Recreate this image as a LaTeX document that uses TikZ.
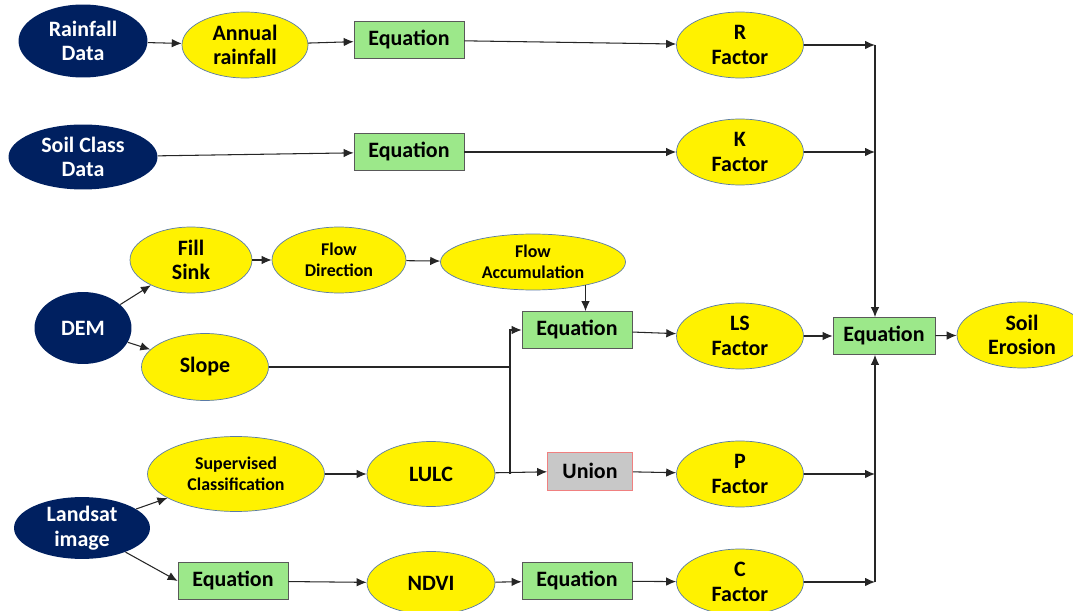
\documentclass[tikz,border=0pt]{standalone}
\usepackage{fontspec}
\setmainfont{Carlito}
\usetikzlibrary{arrows.meta,positioning,shapes.geometric,calc}
\definecolor{navy}{HTML}{002060}
\definecolor{ellline}{HTML}{5A7BA6}
\definecolor{eqgreen}{HTML}{9CE88A}
\definecolor{uniongray}{HTML}{C8C8C8}
\definecolor{unionline}{HTML}{F08080}

\begin{document}
\begin{tikzpicture}[
  x=0.02cm, y=-0.02cm,
  src/.style={ellipse,fill=navy,text=white,font=\bfseries\fontsize{12.5}{14}\selectfont,align=center,inner sep=0pt},
  proc/.style={ellipse,draw=ellline,fill=yellow,font=\bfseries\fontsize{12.5}{14}\selectfont,align=center,inner sep=0pt,minimum width=2.54cm,minimum height=1.32cm},
  small/.style={font=\bfseries\fontsize{10.2}{12}\selectfont},
  eqn/.style={draw=black!65,fill=eqgreen,font=\bfseries\fontsize{12.5}{14}\selectfont,minimum width=2.2cm,minimum height=0.74cm,inner sep=0pt},
  arrow/.style={-{Latex[length=2mm,width=1.7mm]},black!85,line width=0.6pt}
]
\useasboundingbox (0,0) rectangle (1073,611);
% input data
\node[src,minimum width=2.58cm,minimum height=1.46cm] (rain) at (83,41) {Rainfall\\Data};
\node[src,minimum width=2.98cm,minimum height=1.3cm] (soilc) at (83,157) {Soil Class\\Data};
\node[src,minimum width=1.94cm,minimum height=1.44cm] (dem) at (83,328) {DEM};
\node[src,minimum width=2.72cm,minimum height=1.06cm] (landsat) at (82,528) {Landsat\\image};
% processing
\node[proc,minimum width=2.52cm] (annual) at (245,45) {Annual\\rainfall};
\node[eqn] (eq1) at (409,40) {Equation};
\node[eqn] (eq2) at (409,152) {Equation};
\node[proc,minimum width=2.44cm] (fill) at (191,260) {Fill\\Sink};
\node[proc,small,minimum width=2.68cm] (flowdir) at (339,260) {Flow\\Direction};
\node[proc,small,minimum width=3.7cm,minimum height=1.12cm] (flowacc) at (533,262) {Flow\\Accumulation};
\node[proc,minimum height=1.34cm] (slope) at (205,367) {Slope};
\node[eqn] (eq3) at (577,330) {Equation};
\node[proc,small,minimum width=3.54cm,minimum height=1.5cm] (superv) at (236,474) {Supervised\\Classification};
\node[proc,minimum width=2.56cm,minimum height=1.3cm] (lulc) at (431,474) {LULC};
\node[draw=unionline,fill=uniongray,font=\bfseries\fontsize{12.5}{14}\selectfont,minimum width=1.7cm,minimum height=0.76cm,inner sep=0pt] (union) at (590,471) {Union};
\node[eqn] (eq5) at (233,581) {Equation};
\node[proc,minimum width=2.56cm,minimum height=1.26cm] (ndvi) at (431,583) {NDVI};
\node[eqn] (eq6) at (577,581) {Equation};
% factors
\node[proc] (rf) at (740,45) {R\\Factor};
\node[proc] (kf) at (740,152) {K\\Factor};
\node[proc] (lsf) at (740,336) {LS\\Factor};
\node[proc] (pf) at (740,474) {P\\Factor};
\node[proc] (cf) at (740,582) {C\\Factor};
\node[eqn,minimum width=2.04cm] (fin) at (884,336) {Equation};
\node[proc,minimum width=2.6cm] (erosion) at (1022,335) {Soil\\Erosion};
% bus lines
\coordinate (bus) at (875,0);
\coordinate (jn) at (510,0);

\draw[arrow] (rain) -- (annual);
\draw[arrow] (annual) -- (eq1);
\draw[arrow] (eq1) -- (rf);
\draw[arrow] (soilc) -- (eq2);
\draw[arrow] (eq2) -- (kf);
\draw[arrow] (dem) -- (fill);
\draw[arrow] (dem) -- (slope);
\draw[arrow] (fill) -- (flowdir);
\draw[arrow] (flowdir) -- (flowacc);
\draw[arrow] (flowacc.-24) -- (flowacc.-24 |- eq3.north);
\draw[black!85,line width=0.6pt] (slope.east) -- (slope.east -| jn);
\draw[arrow] (lulc.east -| jn) |- (eq3.west);
\draw[arrow] (landsat) -- (superv);
\draw[arrow] (landsat) -- (eq5.west);
\draw[arrow] (superv) -- (lulc);
\draw[arrow] (lulc) -- (union);
\draw[arrow] (eq5) -- (ndvi);
\draw[arrow] (ndvi) -- (eq6);
\draw[arrow] (eq3) -- (lsf);
\draw[arrow] (union) -- (pf);
\draw[arrow] (eq6) -- (cf);
\draw[arrow] (lsf) -- (fin);
\draw[arrow] (fin) -- (erosion);
\draw[arrow] (rf.east) -- (rf.east -| bus);
\draw[arrow] (kf.east) -- (kf.east -| bus);
\draw[arrow] (pf.east) -- (pf.east -| bus);
\draw[arrow] (cf.east) -- (cf.east -| bus);
\draw[arrow] (rf.east -| bus) -- (bus |- fin.north);
\draw[arrow] (cf.east -| bus) -- (bus |- fin.south);
\end{tikzpicture}
\end{document}
